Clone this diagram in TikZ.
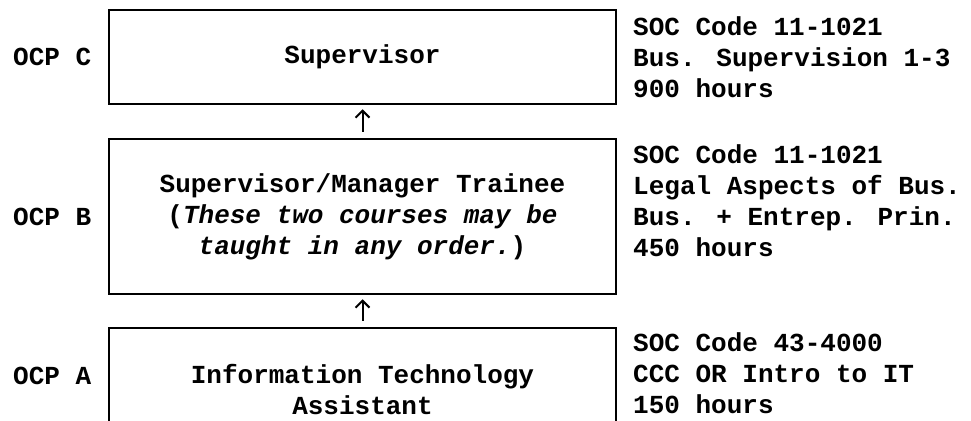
\documentclass[tikz,border=0pt]{standalone}
\usepackage{fontspec}
\setmainfont{Liberation Mono}
\usetikzlibrary{arrows.meta}
\newcommand\fs{\bfseries\fontsize{26}{31}\selectfont}
\begin{document}
\begin{tikzpicture}[x=1pt,y=-1pt,
  box/.style={draw,line width=2.5pt,minimum width=507pt,inner sep=0pt,font=\fs,align=center},
  lab/.style={font=\fs,anchor=west,inner sep=0pt},
  info/.style={font=\fs,align=left,anchor=north west,inner sep=0pt},
  up/.style={-{Straight Barb[length=7pt,width=14pt,line width=2pt]},line width=2pt,shorten <=6pt,shorten >=4pt}]
\useasboundingbox (0,0) rectangle (971,420);
\clip (0,0) rectangle (971,420);
\node[box,minimum height=94pt] (c) at (362.5,57) {Supervisor};
\node[box,minimum height=155pt] (b) at (362.5,216.5) {Supervisor/Manager Trainee\\(\textit{These two courses may be}\\\textit{taught in any order.})};
\node[box,minimum height=124pt] (a) at (362.5,390) {Information Technology\\Assistant};
\node[lab] (lc) at (13,57) {OCP C};
\node[lab] (lb) at (13,216.5) {OCP B};
\node[lab] (la) at (13,376) {OCP A};
\node[info] (ic) at (633,16.5) {SOC Code 11-1021\\Bus. Supervision 1-3\\900 hours};
\node[info] (ib) at (633,144.5) {SOC Code 11-1021\\Legal Aspects of Bus.\\Bus. + Entrep. Prin.\\450 hours};
\node[info] (ia) at (633,332.5) {SOC Code 43-4000\\CCC OR Intro to IT\\150 hours};
\draw[up] (b.north) -- (c.south);
\draw[up] (a.north) -- (b.south);
\end{tikzpicture}
\end{document}
